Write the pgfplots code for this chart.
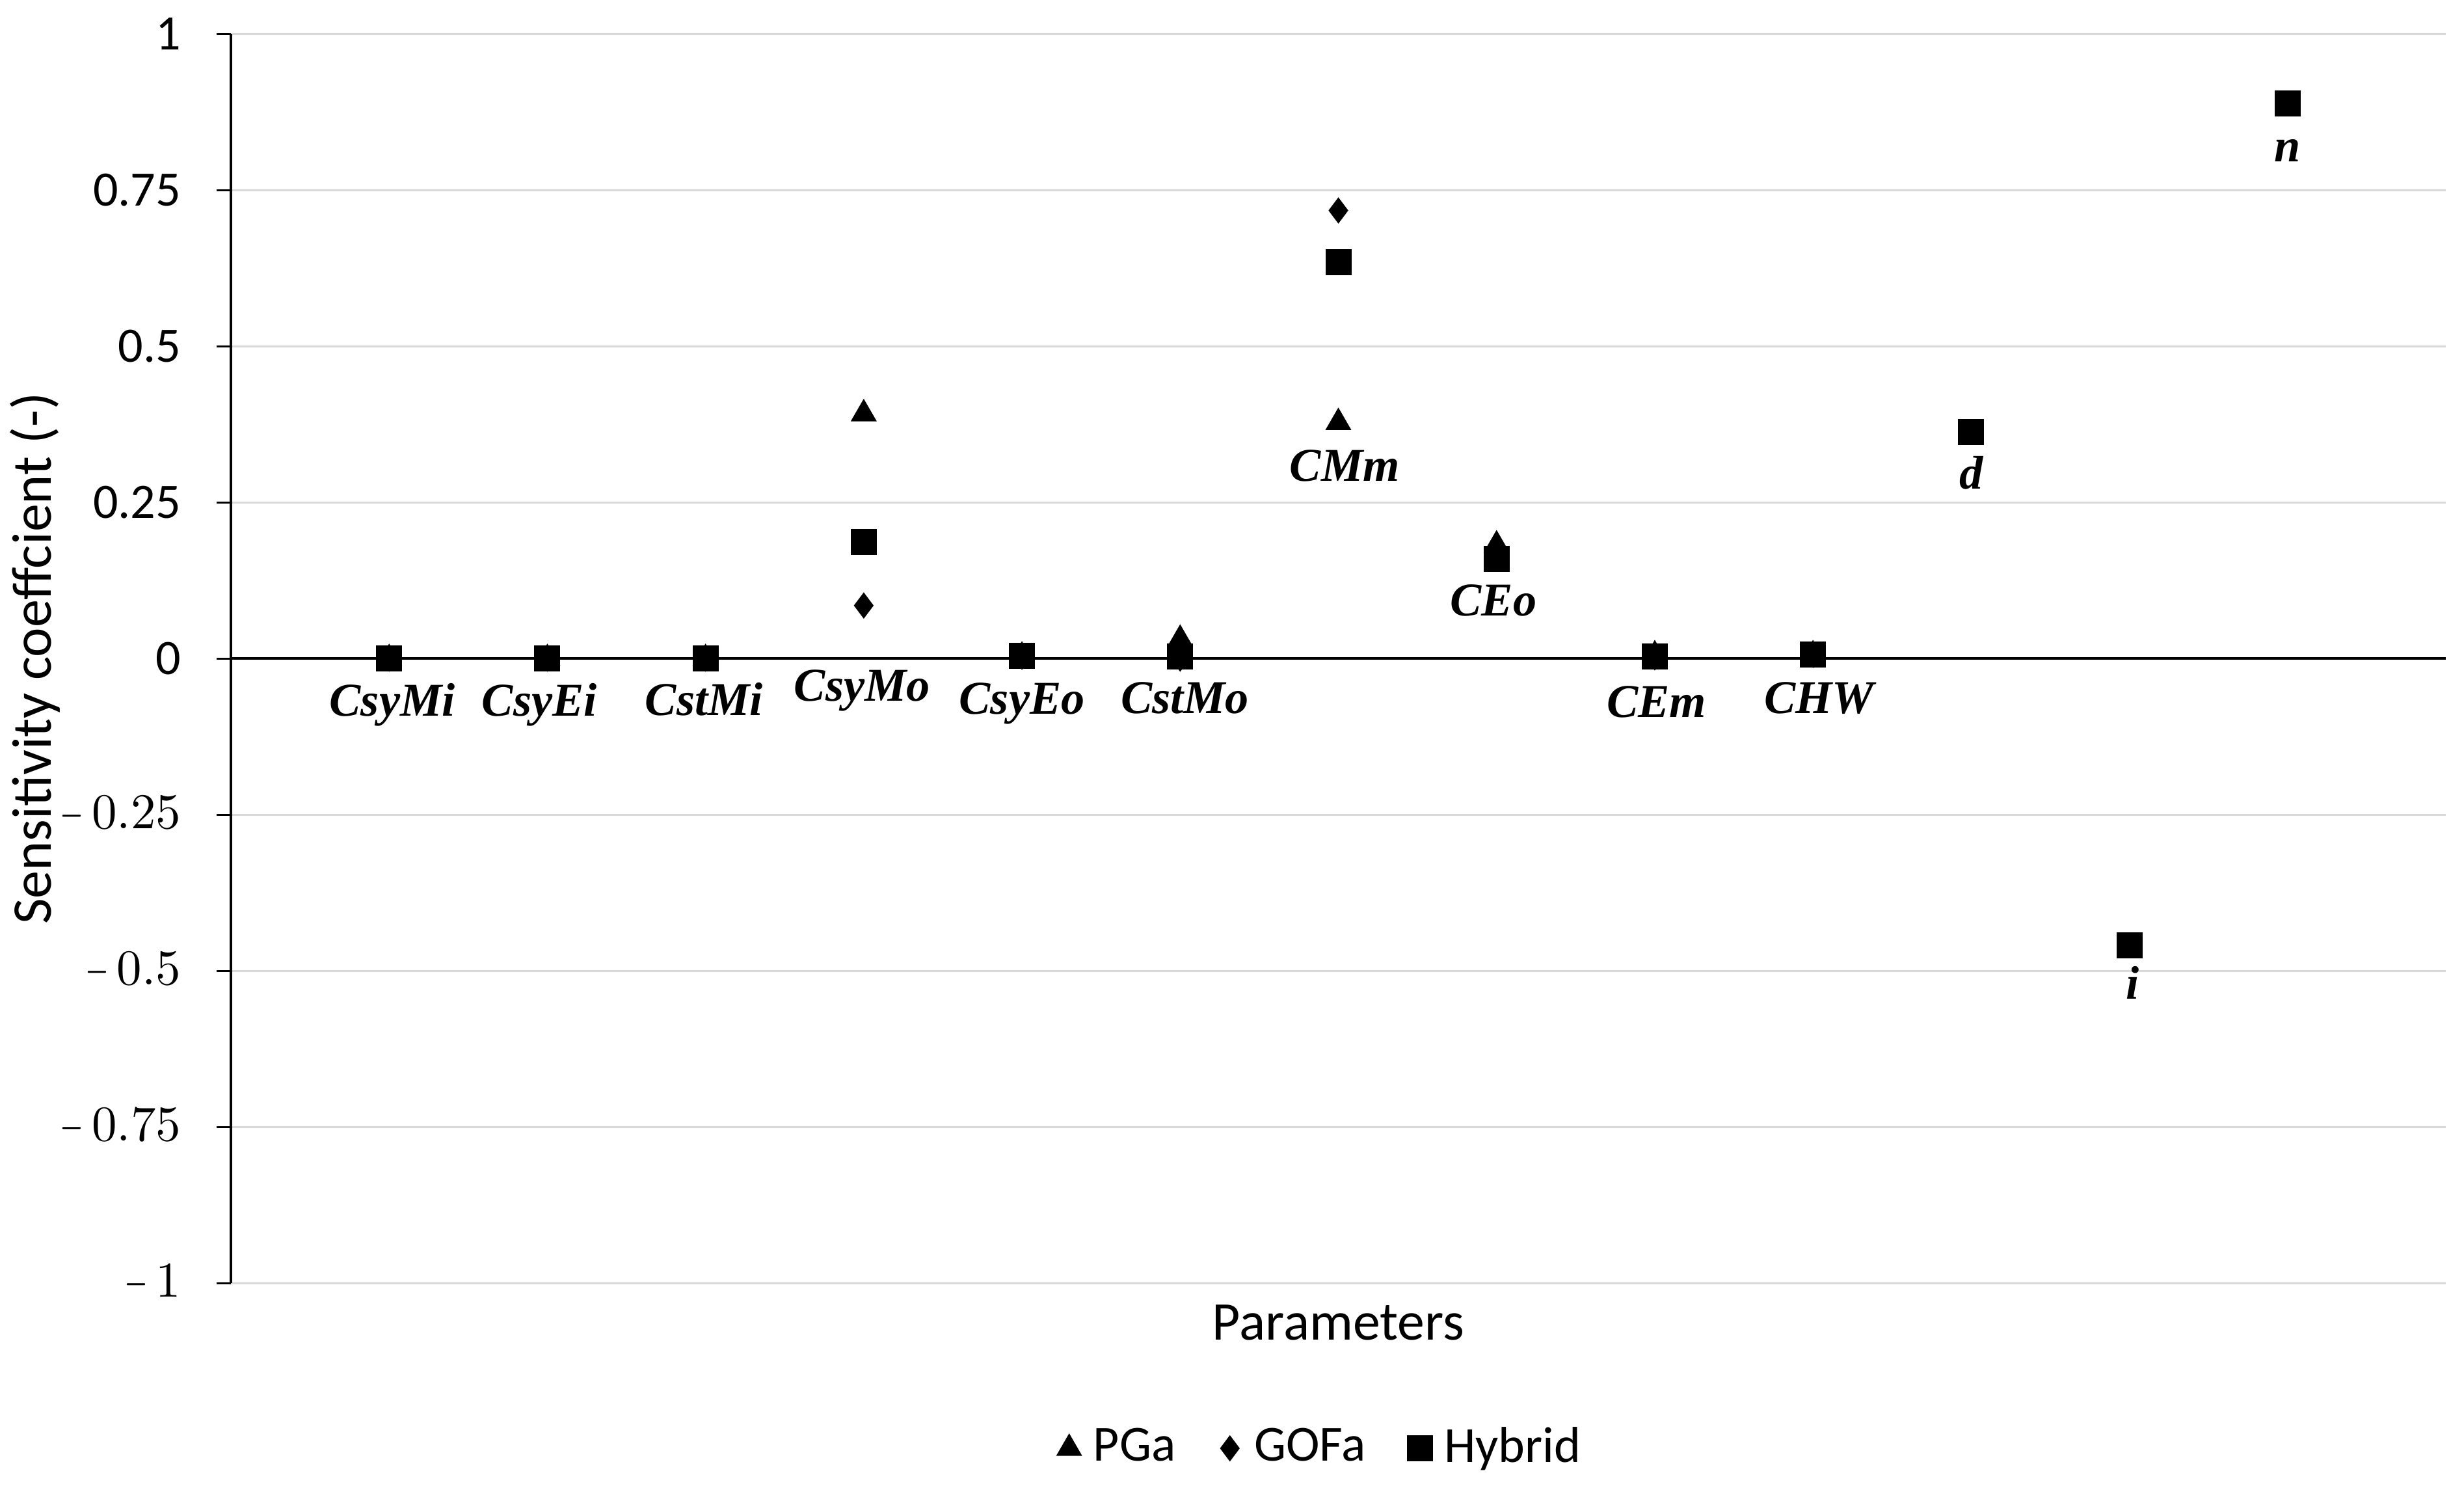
\documentclass[border=0pt]{standalone}
\usepackage{pgfplots}
\pgfplotsset{compat=1.18}
\usepackage{pgfplotstable}
\usepackage{graphicx}
\usepackage{fontspec}
\setmainfont{Carlito}
\newfontfamily\tnr{Liberation Serif}
\definecolor{gridgray}{HTML}{D9D9D9}

% negative tick labels: short minus, digits in math font
\newcommand{\negl}[1]{\scalebox{0.6}[1]{$-$}\,$#1$}

% category labels, placed at their baselines
\pgfplotstableread{
x y lab
1.02 -0.092 CsyMi
1.95 -0.092 CsyEi
2.99 -0.091 CstMi
3.99 -0.068 CsyMo
5.00 -0.089 CsyEo
6.03 -0.088 CstMo
7.04 0.284 CMm
7.98 0.069 CEo
9.01 -0.0935 CEm
10.04 -0.088 CHW
11.00 0.272 d
12.02 -0.545 i
13.00 0.796 n
}\labels

\begin{document}
\begin{tikzpicture}
\begin{axis}[
    scale only axis,
    width=442.65pt, height=249.6pt,
    xmin=0, xmax=14, ymin=-1, ymax=1,
    axis x line*=bottom, axis y line*=left,
    x axis line style={draw=none},
    xtick=\empty,
    ytick={-1,-0.75,-0.5,-0.25,0,0.25,0.5,0.75,1},
    yticklabels={\negl{1},\negl{0.75},\negl{0.5},\negl{0.25},0,0.25,0.5,0.75,1},
    tick align=outside,
    major tick length=2.9pt,
    y axis line style={black, line width=0.45pt},
    ytick style={black, line width=0.45pt},
    ymajorgrids,
    grid style={gridgray, line width=0.43pt},
    yticklabel style={font=\fontsize{9.9}{12}\selectfont, anchor=east, inner sep=0pt, xshift=-6.9pt},
    ylabel={Sensitivity coeffcient (-)},
    ylabel style={at={(axis description cs:-0.0884,0.5)}, anchor=center, font=\fontsize{11.2}{13}\selectfont},
    xlabel={Parameters},
    xlabel style={at={(axis description cs:0.5,0)}, anchor=base, yshift=-11.4pt, font=\fontsize{10.9}{13}\selectfont},
    legend columns=3,
    legend style={at={(0.493,-0.1322)}, anchor=center, draw=none, inner sep=0pt,
        font=\fontsize{10.1}{12}\selectfont,
        /tikz/every even column/.append style={column sep=6pt}},
    legend image code/.code={\draw[#1] plot coordinates {(0.1cm,0cm)}; \path[draw=none] (0cm,0cm) -- (0.2cm,0cm);},
]

% zero line
\addplot[black, line width=0.5pt, forget plot] coordinates {(0,0) (14,0)};

% PGa
\addplot[only marks, mark=triangle*, mark size=2.6pt, black] coordinates {
    (1,0) (2,0) (3,0) (4,0.392) (5,0.004) (6,0.031) (7,0.378)
    (8,0.182) (9,0.006) (10,0.006)
};
\addlegendentry{PGa}

% GOFa
\addplot[only marks, mark=diamond*, mark size=2.3pt, black] coordinates {
    (1,0) (2,0) (3,0) (4,0.085) (5,0.003) (6,0.0) (7,0.7175)
    (8,0.172) (9,0.002) (10,0.006)
};
\addlegendentry{GOFa}

% Hybrid
\addplot[only marks, mark=square*, mark size=2.4pt, black] coordinates {
    (1,0) (2,0) (3,0) (4,0.187) (5,0.004) (6,0.003) (7,0.635)
    (8,0.160) (9,0.0035) (10,0.007) (11,0.363) (12,-0.459) (13,0.889)
};
\addlegendentry{Hybrid}

% parameter names
\addplot[only marks, mark=none, forget plot,
    nodes near coords, point meta=explicit symbolic,
    nodes near coords style={anchor=base, inner sep=0pt,
        font=\tnr\bfseries\itshape\fontsize{9.4}{11}\selectfont}]
    table[x=x, y=y, meta=lab] {\labels};

\end{axis}
\pgfresetboundingbox
\path[use as bounding box] ([shift={(-46.15pt,-40.4pt)}]current axis.south west)
    rectangle ([shift={(3.64pt,6.8pt)}]current axis.north east);
\end{tikzpicture}
\end{document}
